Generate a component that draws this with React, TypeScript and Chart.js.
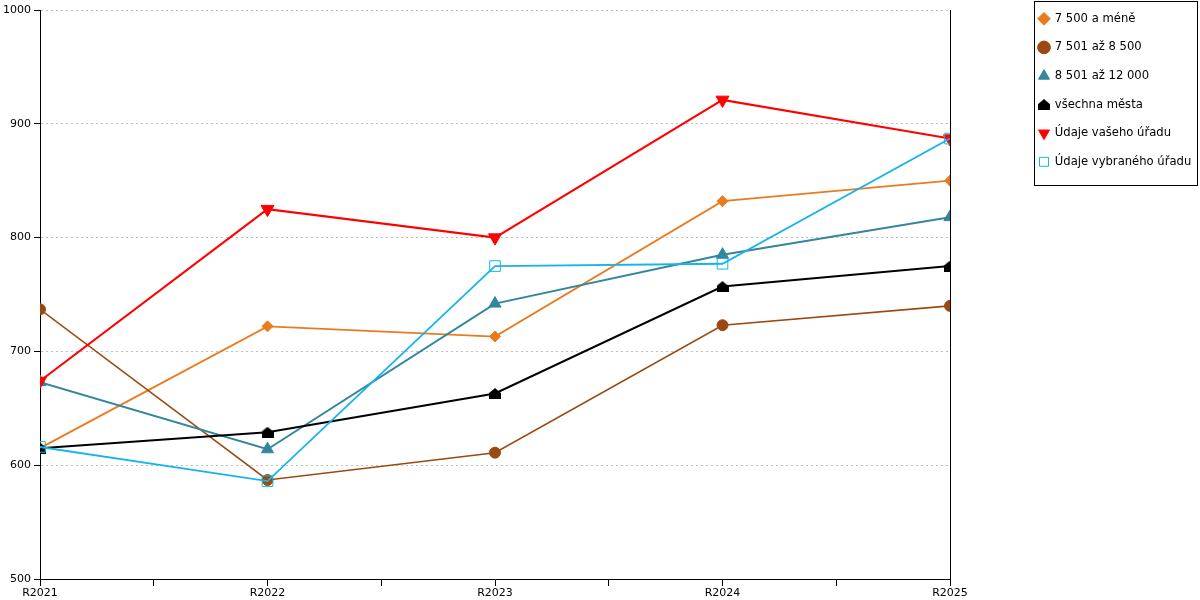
import { useEffect, useRef } from 'react'
import { Chart, registerables } from 'chart.js'

Chart.register(...registerables)

const years = ['R2021', 'R2022', 'R2023', 'R2024', 'R2025']
const yTicks = [500, 600, 700, 800, 900, 1000]

const upTo7500 = [615, 722, 713, 832, 850]
const from7501to8500 = [737, 587, 611, 723, 740]
const from8501to12000 = [673, 614, 742, 785, 818]
const allCities = [615, 629, 663, 757, 775]
const yourOffice = [674, 825, 800, 921, 887]
const selectedOffice = [616, 586, 775, 777, 887]

const seriesNames = [
  '7 500 a méně',
  '7 501 až 8 500',
  '8 501 až 12 000',
  'všechna města',
  'Údaje vašeho úřadu',
  'Údaje vybraného úřadu',
]

const FONT = "'DejaVu Sans', sans-serif"

// small black "house" marker (square with a roof)
function makeHouse() {
  const c = document.createElement('canvas')
  c.width = 12
  c.height = 11
  const g = c.getContext('2d')!
  g.fillStyle = '#000'
  g.beginPath()
  g.moveTo(0, 11)
  g.lineTo(0, 5)
  g.lineTo(6, 0)
  g.lineTo(12, 5)
  g.lineTo(12, 11)
  g.closePath()
  g.fill()
  return c
}

const legendFrame = {
  id: 'legendFrame',
  afterDraw(chart: any) {
    const lg = chart.legend
    if (!lg) return
    const ctx = chart.ctx
    ctx.save()
    ctx.strokeStyle = '#000'
    ctx.lineWidth = 1
    ctx.strokeRect(Math.round(lg.left + 12) + 0.5, Math.round(lg.top + 5) + 0.5, 163, 184)
    ctx.restore()
  },
}

const toPoints = (vals: number[]) => vals.map((y, i) => ({ x: i, y }))

export default function App() {
  const chartRef = useRef<HTMLCanvasElement>(null)
  const chartInstance = useRef<Chart | null>(null)

  useEffect(() => {
    if (!chartRef.current) return
    if (chartInstance.current) chartInstance.current.destroy()
    const ctx = chartRef.current.getContext('2d')
    if (!ctx) return

    const house = makeHouse()

    const mk = (i: number, vals: number[], color: string, style: any, radius: number, width: number, extra: any = {}) => ({
      label: seriesNames[i],
      data: toPoints(vals),
      borderColor: color,
      borderWidth: width,
      pointStyle: style,
      pointRadius: radius,
      pointHoverRadius: radius,
      pointBackgroundColor: color,
      pointBorderColor: color,
      pointBorderWidth: 1,
      order: 6 - i,
      ...extra,
    })

    const datasets = [
      mk(0, upTo7500, '#e97b1f', 'rectRot', 5.5, 1.8),
      mk(1, from7501to8500, '#9a4a10', 'circle', 5.5, 1.6),
      mk(2, from8501to12000, '#33869c', 'triangle', 7, 2),
      mk(3, allCities, '#000000', house, 6, 2),
      mk(4, yourOffice, '#ff0000', 'triangle', 7.5, 2, { pointRotation: 180 }),
      mk(5, selectedOffice, '#17b4ea', 'rect', 7.5, 1.8, { pointBackgroundColor: 'rgba(255,255,255,0)' }),
    ]

    chartInstance.current = new Chart(ctx, {
      type: 'line',
      data: { datasets },
      options: {
        animation: false,
        responsive: true,
        maintainAspectRatio: false,
        layout: { padding: 0 },
        plugins: {
          tooltip: { enabled: false },
          legend: {
            position: 'right',
            align: 'start',
            maxWidth: 178,
            labels: {
              usePointStyle: true,
              boxWidth: 10,
              boxHeight: 9,
              padding: 17,
              color: '#000',
              font: { family: FONT, size: 11.6 },
              sort: (a: any, b: any) => a.datasetIndex - b.datasetIndex,
            },
          },
        },
        scales: {
          x: {
            type: 'linear',
            min: 0,
            max: years.length - 1,
            afterFit: (s: any) => { s.height = 21 },
            ticks: {
              stepSize: 0.5,
              autoSkip: false,
              maxRotation: 0,
              padding: 1,
              color: '#000',
              font: { family: FONT, size: 11 },
              callback: (v: any) => (Number.isInteger(v) ? years[v] : ''),
            },
            grid: { drawOnChartArea: false, tickColor: '#000', tickLength: 7 },
            border: { color: '#000', width: 1 },
          },
          xTop: {
            type: 'linear',
            position: 'top',
            afterFit: (s: any) => { s.height = 14 },
            ticks: { display: false },
            grid: { display: false },
            border: { display: false },
          },
          y: {
            min: yTicks[0],
            max: yTicks[yTicks.length - 1],
            afterFit: (s: any) => { s.width = 40 },
            afterBuildTicks: (s: any) => { s.ticks = yTicks.map((v) => ({ value: v })) },
            ticks: {
              padding: 3,
              color: '#000',
              font: { family: FONT, size: 11 },
              callback: (v: any) => String(v),
            },
            grid: {
              color: '#c0c0c0',
              tickColor: '#000',
              tickLength: 6,
              tickBorderDash: [],
            },
            border: { color: '#000', width: 1, dash: [2, 3] },
          },
          yRight: {
            position: 'right',
            afterFit: (s: any) => { s.width = 72 },
            ticks: { display: false },
            grid: { display: false },
            border: { color: '#000', width: 1 },
          },
        },
      } as any,
      plugins: [legendFrame],
    })

    return () => {
      if (chartInstance.current) {
        chartInstance.current.destroy()
        chartInstance.current = null
      }
    }
  }, [])

  return (
    <div style={{ position: 'absolute', left: 0, top: -4, width: 1200, height: 604 }}>
      <canvas ref={chartRef} />
    </div>
  )
}
